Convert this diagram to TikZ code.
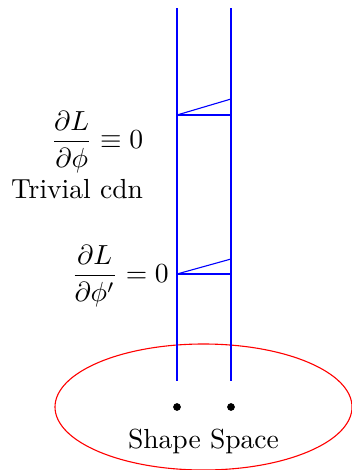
\documentclass[tikz,border=0pt]{standalone}
\usepackage{amsmath,amssymb}
\begin{document}
\begin{tikzpicture}[x=0.3625pt,y=-0.3625pt,
  fib/.style={blue,line width=0.4pt},
  dot/.style={circle,fill=black,inner sep=0pt,minimum size=2.8pt},
  lbl/.style={inner sep=0pt}]
\useasboundingbox (0,0) rectangle (352,470);
% shape space
\draw[red] (203.5,407) ellipse[x radius=148.5*0.3625pt, y radius=63*0.3625pt];
\node[lbl] (ss) at (203.5,441) {Shape Space};
\node[dot] (p1) at (177,407) {};
\node[dot] (p2) at (231,407) {};
% fibres
\coordinate (a1) at (177,8);  \coordinate (a2) at (177,381);
\coordinate (b1) at (231,8);  \coordinate (b2) at (231,381);
\draw[fib] (a1) -- (a2);
\draw[fib] (b1) -- (b2);
% upper bar
\coordinate (u1) at (177,115); \coordinate (u2) at (231,115); \coordinate (u3) at (231,99);
\draw[fib] (u1) -- (u2);
\draw[fib] (u1) -- (u3);
% lower bar
\coordinate (l1) at (177,274); \coordinate (l2) at (231,274); \coordinate (l3) at (231,259);
\draw[fib] (l1) -- (l2);
\draw[fib] (l1) -- (l3);
% labels
\node[lbl] (e1) at (97,142) {$\dfrac{\partial L}{\partial \phi} \equiv 0$};
\node[lbl] (tc) at (77,189) {Trivial cdn};
\node[lbl] (e2) at (120,276) {$\dfrac{\partial L}{\partial \phi'} = 0$};
\end{tikzpicture}
\end{document}
